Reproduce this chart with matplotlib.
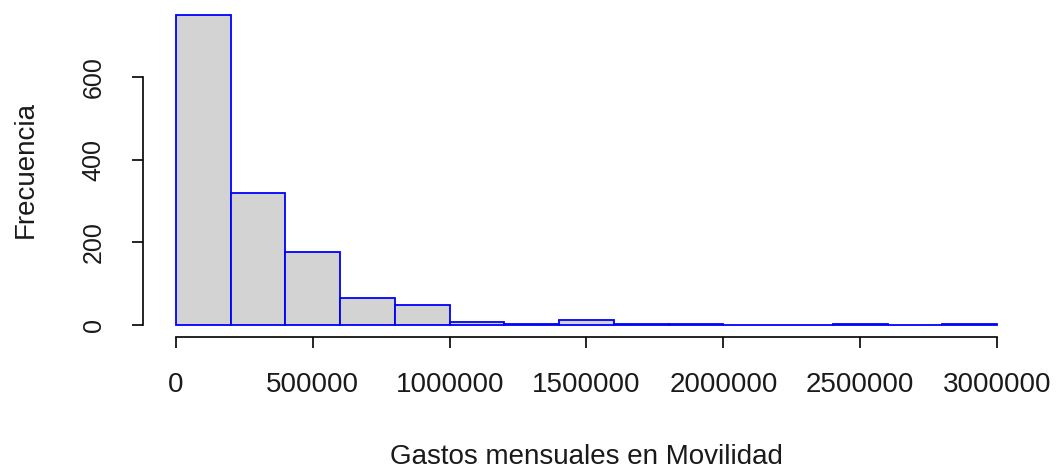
import matplotlib
matplotlib.use("Agg")
import matplotlib.pyplot as plt
import numpy as np

# histogram bins (width 200000) and counts
bin_edges = np.arange(0, 3000001, 200000)
counts = [750, 320, 177, 65, 48, 8, 3, 13, 2, 2, 0, 0, 2, 0, 2]
y_ticks = [0, 200, 400, 600]
x_ticks = [0, 500000, 1000000, 1500000, 2000000, 2500000, 3000000]

plt.rcParams['font.family'] = ['Liberation Sans', 'DejaVu Sans']

fig = plt.figure(figsize=(10.56, 4.72), dpi=100)
ax = fig.add_axes([143.2 / 1056, 1 - 337.4 / 472, (1029.8 - 143.2) / 1056, (337.4 - 2.6) / 472])

ax.hist(bin_edges[:-1], bins=bin_edges, weights=counts,
        color='#d3d3d3', edgecolor='blue', linewidth=1.3)

ax.set_xlim(-120000, 3120000)
ax.set_ylim(-30, 780)

for s in ['top', 'right']:
    ax.spines[s].set_visible(False)
ax.spines['left'].set_bounds(0, 600)
ax.spines['bottom'].set_bounds(0, 3000000)
ax.spines['left'].set_linewidth(1.2)
ax.spines['bottom'].set_linewidth(1.2)

ax.set_xticks(x_ticks)
ax.set_xticklabels([str(v) for v in x_ticks])
ax.set_yticks(y_ticks)
ax.set_yticklabels([str(v) for v in y_ticks], rotation=90, va='center')
ax.tick_params(axis='both', length=8, width=1.2, colors='#000000')
ax.tick_params(axis='x', pad=17, labelsize=20)
ax.tick_params(axis='y', pad=19, labelsize=18)
for lab in ax.get_xticklabels() + ax.get_yticklabels():
    lab.set_color('#1a1a1a')

ax.set_xlabel('Gastos mensuales en Movilidad', fontsize=20, labelpad=33, color='#1a1a1a')
ax.set_ylabel('Frecuencia', fontsize=20, labelpad=31, color='#1a1a1a')

fig.savefig('out.png', dpi=100)
